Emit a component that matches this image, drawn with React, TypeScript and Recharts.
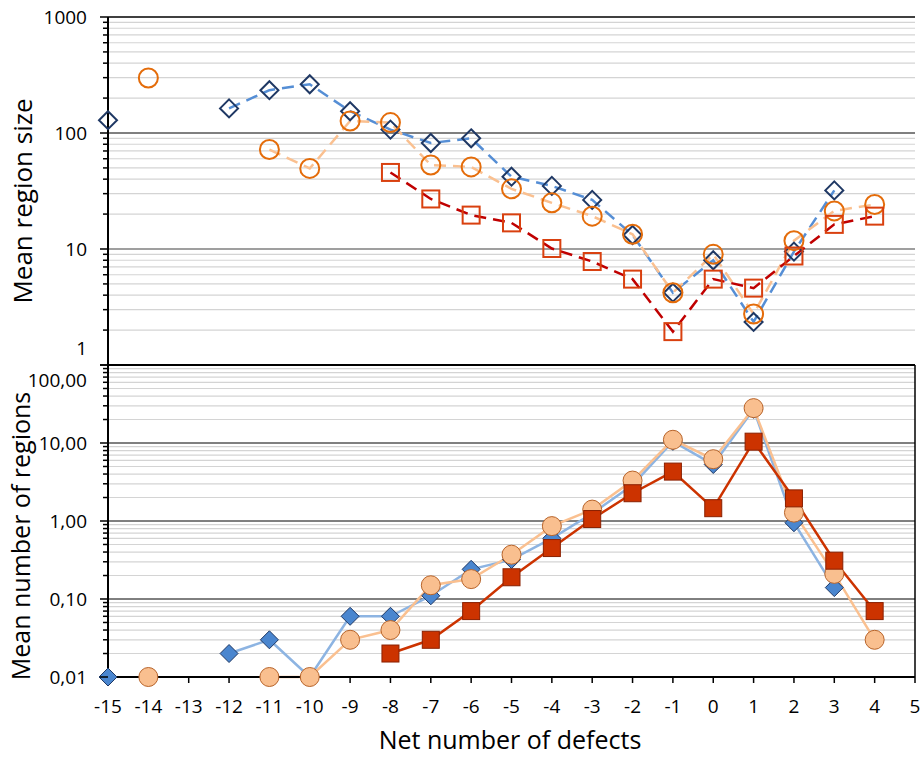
import React from 'react';
import { LineChart, Line, XAxis, YAxis, CartesianGrid } from 'recharts';

// Net number of defects (x categories)
const netDefects = [-15, -14, -13, -12, -11, -10, -9, -8, -7, -6, -5, -4, -3, -2, -1, 0, 1, 2, 3, 4];
const xTicks = [-15, -14, -13, -12, -11, -10, -9, -8, -7, -6, -5, -4, -3, -2, -1, 0, 1, 2, 3, 4, 5];

// Top panel: mean region size
const sizeBlue = [129, null, null, 163, 234, 263, 154, 107, 82, 90, 42, 35, 26.5, 13.2, 4.2, 8.0, 2.35, 9.5, 32, null];
const sizeOrange = [null, 298, null, null, 72, 49.5, 127, 123, 53, 51, 33, 25, 19.2, 13.4, 4.2, 9.0, 2.75, 11.8, 21.3, 24.2];
const sizeRed = [null, null, null, null, null, null, null, 45.7, 27, 19.6, 16.8, 10.1, 7.8, 5.5, 1.94, 5.5, 4.6, 8.7, 16.3, 19.2];

// Bottom panel: mean number of regions
const countBlue = [0.01, null, null, 0.02, 0.03, 0.01, 0.06, 0.06, 0.11, 0.24, 0.32, 0.6, 1.25, 2.9, 10.5, 5.3, 27, 0.95, 0.14, null];
const countOrange = [null, 0.01, null, null, 0.01, 0.01, 0.03, 0.04, 0.15, 0.18, 0.37, 0.86, 1.4, 3.3, 11, 6.2, 28, 1.28, 0.21, 0.03];
const countRed = [null, null, null, null, null, null, null, 0.02, 0.03, 0.07, 0.19, 0.45, 1.06, 2.27, 4.3, 1.46, 10.4, 1.95, 0.31, 0.07];

// Axis ticks
const sizeMajorTicks = [1, 10, 100, 1000];
const sizeTickLabels = ['1', '10', '100', '1000'];
const sizeMinorTicks = [2, 3, 4, 5, 6, 7, 8, 9, 20, 30, 40, 50, 60, 70, 80, 90, 200, 300, 400, 500, 600, 700, 800, 900];
const countMajorTicks = [0.01, 0.1, 1, 10, 100];
const countTickLabels = ['0,01', '0,10', '1,00', '10,00', '100,00'];
const countMinorTicks = [0.02, 0.03, 0.04, 0.05, 0.06, 0.07, 0.08, 0.09, 0.2, 0.3, 0.4, 0.5, 0.6, 0.7, 0.8, 0.9, 2, 3, 4, 5, 6, 7, 8, 9, 20, 30, 40, 50, 60, 70, 80, 90];

const sizeTable = netDefects.map((x, i) => ({ x, blue: sizeBlue[i], orange: sizeOrange[i], red: sizeRed[i] }));
const countTable = netDefects.map((x, i) => ({ x, blue: countBlue[i], orange: countOrange[i], red: countRed[i] }));

const FONT = '"Open Sans", "Noto Sans", sans-serif';

const makeDiamond = (stroke: string, fill: string, sw: number, r: number) => (p: any) => {
  const { cx, cy, key, value } = p;
  if (cx == null || cy == null || value == null || isNaN(cy)) return <g key={key} />;
  return <path key={key} d={`M${cx},${cy - r}L${cx + r},${cy}L${cx},${cy + r}L${cx - r},${cy}Z`} stroke={stroke} fill={fill} strokeWidth={sw} />;
};
const makeCircle = (stroke: string, fill: string, sw: number, r: number) => (p: any) => {
  const { cx, cy, key, value } = p;
  if (cx == null || cy == null || value == null || isNaN(cy)) return <g key={key} />;
  return <circle key={key} cx={cx} cy={cy} r={r} stroke={stroke} fill={fill} strokeWidth={sw} />;
};
const makeSquare = (stroke: string, fill: string, sw: number, h: number) => (p: any) => {
  const { cx, cy, key, value } = p;
  if (cx == null || cy == null || value == null || isNaN(cy)) return <g key={key} />;
  return <rect key={key} x={cx - h} y={cy - h} width={2 * h} height={2 * h} stroke={stroke} fill={fill} strokeWidth={sw} />;
};

const makeYTick = (majors: number[], labels: string[], shifts: number[]) => (props: any) => {
  const { x, y, payload } = props;
  const i = majors.indexOf(payload.value);
  const major = i >= 0;
  return (
    <g>
      <line x1={x - (major ? 8 : 5)} x2={x} y1={y} y2={y} stroke="#000" strokeWidth={1.5} />
      {major && (
        <text x={x - 21} y={y + shifts[i]} dy="0.35em" textAnchor="end" fontSize={19} fill="#000" fontFamily={FONT}>
          {labels[i]}
        </text>
      )}
    </g>
  );
};

const TopYTick = makeYTick(sizeMajorTicks, sizeTickLabels, [-17, 0, 0, 0]);
const BottomYTick = makeYTick(countMajorTicks, countTickLabels, [0, 0, 0, 0, 15]);

export default function App() {
  return (
    <div style={{ position: 'absolute', left: 0, top: 0, width: 923, height: 757, background: '#fff', fontFamily: FONT }}>
      <div style={{ position: 'absolute', left: 0, top: 350 }}>
        <LineChart width={923} height={407} data={countTable} margin={{ top: 15, right: 8, bottom: 0, left: 0 }}>
          <CartesianGrid vertical={false} horizontalValues={countMinorTicks} stroke="#d4d4d4" strokeWidth={1.2} />
          <CartesianGrid vertical={false} horizontalValues={[0.1, 1, 10]} stroke="#000" strokeWidth={1} />
          <CartesianGrid horizontal={false} verticalValues={[5]} stroke="#000" strokeWidth={1.5} />
          <XAxis
            dataKey="x"
            type="number"
            domain={[-15, 5]}
            ticks={xTicks}
            interval={0}
            height={80}
            tickSize={6}
            tickMargin={17}
            axisLine={{ stroke: '#000', strokeWidth: 2 }}
            tickLine={{ stroke: '#000', strokeWidth: 1.5 }}
            tick={{ fontSize: 19, fill: '#000', fontFamily: FONT }}
            label={{
              content: () => (
                <text x={510} y={390} dy="0.35em" textAnchor="middle" fontSize={25} fill="#000" fontFamily={FONT}>
                  Net number of defects
                </text>
              ),
            }}
          />
          <YAxis
            scale="log"
            domain={[0.01, 100]}
            ticks={[...countMajorTicks, ...countMinorTicks]}
            interval={0}
            width={108}
            tickSize={0}
            tickMargin={0}
            tickLine={false}
            axisLine={{ stroke: '#000', strokeWidth: 2 }}
            tick={BottomYTick}
            label={{
              content: () => (
                <text x={21} y={186} dy="0.35em" textAnchor="middle" fontSize={25} fill="#000" fontFamily={FONT} transform="rotate(-90 21 186)">
                  Mean number of regions
                </text>
              ),
            }}
          />
          <Line dataKey="blue" type="linear" stroke="#8db4e2" strokeWidth={2.5} isAnimationActive={false} activeDot={false} dot={makeDiamond('#1f3864', '#4a86cf', 1, 9)} />
          <Line dataKey="orange" type="linear" stroke="#fac090" strokeWidth={2.5} isAnimationActive={false} activeDot={false} dot={makeCircle('#b8642a', '#f9bf8f', 1, 9.5)} />
          <Line dataKey="red" type="linear" stroke="#cc3300" strokeWidth={2.5} isAnimationActive={false} activeDot={false} dot={makeSquare('#8a2000', '#cc3300', 1, 8.5)} />
        </LineChart>
      </div>
      <div style={{ position: 'absolute', left: 0, top: 0 }}>
        <LineChart width={923} height={380} data={sizeTable} margin={{ top: 17, right: 8, bottom: 0, left: 0 }}>
          <CartesianGrid vertical={false} horizontalValues={sizeMinorTicks} stroke="#d4d4d4" strokeWidth={1.2} />
          <CartesianGrid vertical={false} horizontalValues={[10]} stroke="#7f7f7f" strokeWidth={1.5} />
          <CartesianGrid vertical={false} horizontalValues={[100]} stroke="#000" strokeWidth={1} />
          <CartesianGrid vertical={false} horizontalValues={[1000]} stroke="#000" strokeWidth={1.5} />
          <CartesianGrid horizontal={false} verticalValues={[5]} stroke="#000" strokeWidth={1.5} />
          <XAxis
            dataKey="x"
            type="number"
            domain={[-15, 5]}
            ticks={xTicks}
            interval={0}
            height={15}
            tickSize={7}
            axisLine={{ stroke: '#000', strokeWidth: 2 }}
            tickLine={{ stroke: '#000', strokeWidth: 1.5 }}
            tick={false}
          />
          <YAxis
            scale="log"
            domain={[1, 1000]}
            ticks={[...sizeMajorTicks, ...sizeMinorTicks]}
            interval={0}
            width={108}
            tickSize={0}
            tickMargin={0}
            tickLine={false}
            axisLine={{ stroke: '#000', strokeWidth: 2 }}
            tick={TopYTick}
            label={{
              content: () => (
                <text x={23} y={201} dy="0.35em" textAnchor="middle" fontSize={26} fill="#000" fontFamily={FONT} transform="rotate(-90 23 201)">
                  Mean region size
                </text>
              ),
            }}
          />
          <Line dataKey="blue" type="linear" stroke="#558ed5" strokeWidth={2.5} strokeDasharray="12 7" isAnimationActive={false} activeDot={false} dot={makeDiamond('#1f3864', 'none', 2, 9)} />
          <Line dataKey="orange" type="linear" stroke="#fac090" strokeWidth={2.5} strokeDasharray="12 7" isAnimationActive={false} activeDot={false} dot={makeCircle('#e46c0a', 'none', 2, 9.5)} />
          <Line dataKey="red" type="linear" stroke="#c00000" strokeWidth={2.5} strokeDasharray="12 7" isAnimationActive={false} activeDot={false} dot={makeSquare('#d9400f', 'none', 2, 8.5)} />
        </LineChart>
      </div>
    </div>
  );
}
